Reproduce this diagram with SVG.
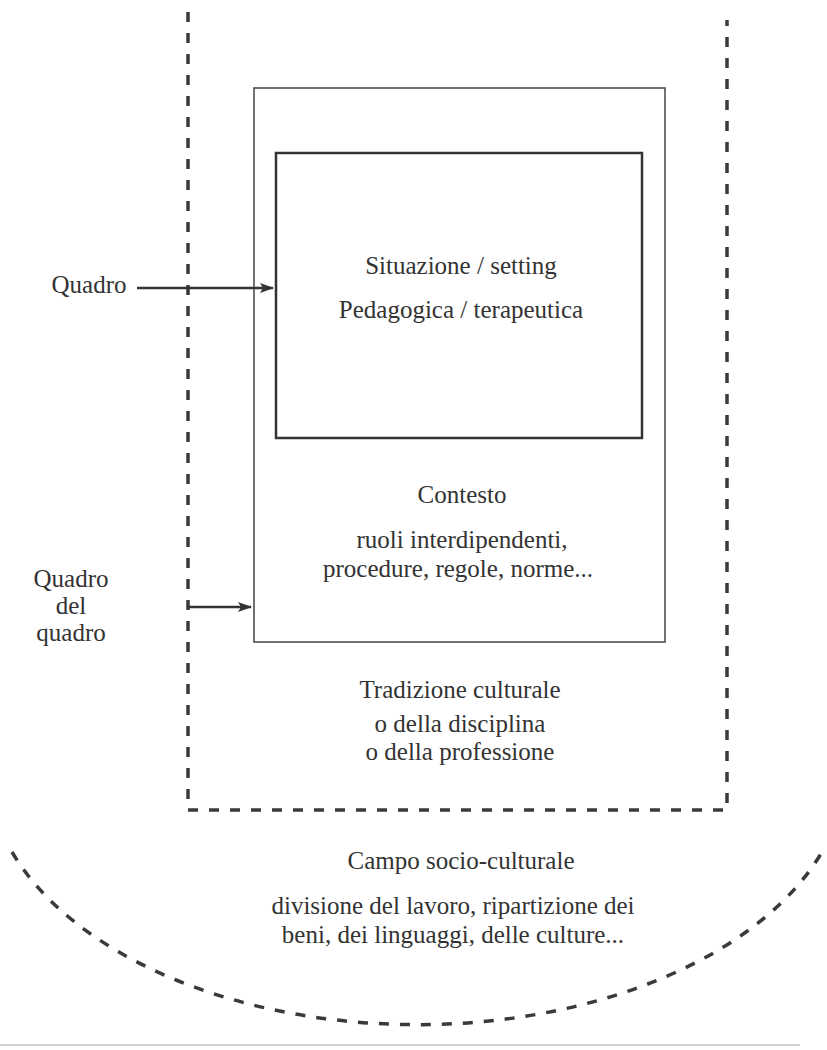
<svg xmlns="http://www.w3.org/2000/svg" width="827" height="1050" viewBox="0 0 827 1050">
<style>
text{font-family:"Liberation Serif","Times New Roman",serif;font-size:25px;fill:#333;text-anchor:middle}
.box{fill:none;stroke:#444;stroke-width:1.5}
.inner{fill:none;stroke:#333;stroke-width:2.5}
.dash{fill:none;stroke:#3a3a3a;stroke-width:3.5;stroke-dasharray:10 11}
.arrow{fill:none;stroke:#333;stroke-width:2.5;marker-end:url(#ah)}
</style>
<defs>
<marker id="ah" viewBox="0 0 14 10" refX="13" refY="5" markerWidth="14" markerHeight="10" markerUnits="userSpaceOnUse" orient="auto">
<path d="M0,0 L14,5 L0,10 L3,5 z" fill="#333"/>
</marker>
</defs>
<rect width="827" height="1050" fill="#fff"/>
<g id="field">
<path class="dash" d="M12,852 A430,260 0 0 0 822,852"/>
<text x="461" y="869">Campo socio-culturale</text>
<text x="453" y="914">divisione del lavoro, ripartizione dei</text>
<text x="453" y="943">beni, dei linguaggi, delle culture...</text>
</g>
<g id="tradition">
<path class="dash" d="M188,12 V810 H727 V20"/>
<text x="460" y="698">Tradizione culturale</text>
<text x="460" y="732">o della disciplina</text>
<text x="460" y="760">o della professione</text>
</g>
<g id="context">
<rect class="box" x="254" y="88" width="411" height="554"/>
<text x="462" y="503">Contesto</text>
<text x="462" y="548">ruoli interdipendenti,</text>
<text x="458" y="577">procedure, regole, norme...</text>
</g>
<g id="setting">
<rect class="inner" x="276" y="153" width="366" height="285"/>
<text x="461" y="274">Situazione / setting</text>
<text x="461" y="318">Pedagogica / terapeutica</text>
</g>
<g id="label-quadro">
<text x="89" y="293">Quadro</text>
</g>
<g id="label-quadro-del-quadro">
<text x="71" y="587">Quadro</text>
<text x="71" y="614">del</text>
<text x="71" y="641">quadro</text>
</g>
<g id="connectors">
<line class="arrow" x1="137" y1="288" x2="273" y2="288"/>
<line class="arrow" x1="188" y1="607" x2="251" y2="607"/>
</g>
<line x1="0" y1="1045" x2="800" y2="1045" stroke="#d0d0d0" stroke-width="2"/>
</svg>
